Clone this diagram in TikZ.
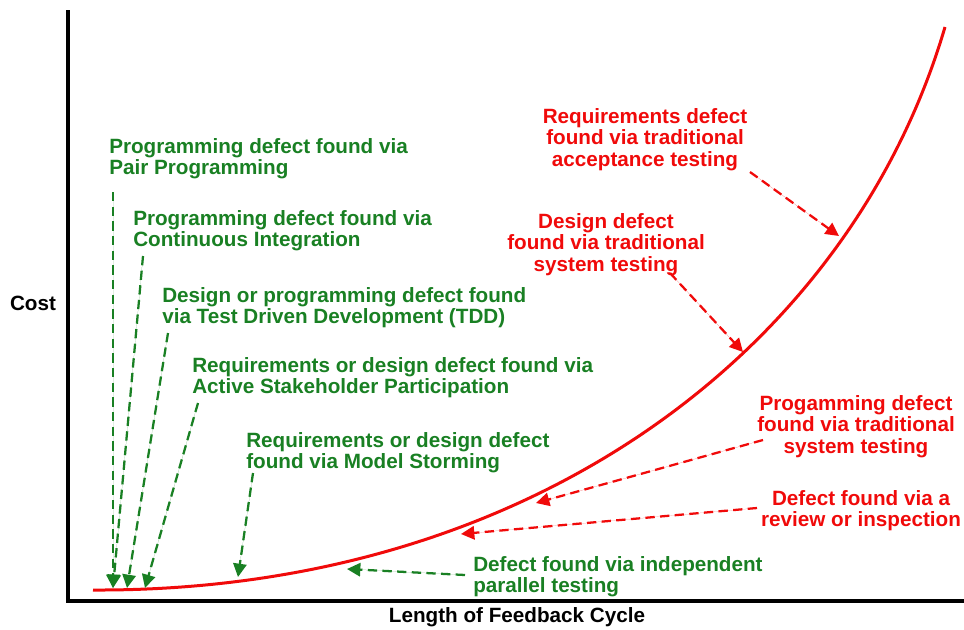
\documentclass[tikz,border=0pt]{standalone}
\usepackage{fontspec}
\setmainfont{Liberation Sans}
\usetikzlibrary{arrows.meta}
\definecolor{agilegreen}{RGB}{25,128,35}
\definecolor{tradred}{RGB}{240,10,10}
\def\largeur{964}
\def\hauteur{629}

\begin{document}
\begin{tikzpicture}[x=0.75pt, y=-0.75pt,
    every node/.style={font=\bfseries\fontsize{15.5}{16.3}\selectfont, inner sep=0pt},
    agiletext/.style={text=agilegreen, align=left, anchor=north west},
    tradtext/.style={text=tradred, align=center, anchor=north},
    agilearrow/.style={draw=agilegreen, fill=agilegreen, line width=1.7pt, dash pattern=on 7pt off 4pt, -{Triangle[length=10pt,width=10pt]}},
    tradarrow/.style={draw=tradred, fill=tradred, line width=1.7pt, dash pattern=on 7pt off 4pt, -{Triangle[length=10pt,width=10pt]}}]
    \useasboundingbox (0,0) rectangle (\largeur,\hauteur);
    % axes
    \coordinate (origin) at (68,601);
    \draw[line width=3pt] (68,10) -- (origin) -- (\largeur,601);
    \node (cost) at (33,303) {Cost};
    \node (cycle) at (517,617) {Length of Feedback Cycle};
    % cost curve
    \draw[tradred, line width=2.25pt] (93,590) .. controls (530,592) and (850,350) .. (945,27);
%\draw[step=50, black!20] (0,0) grid (\largeur,\hauteur);

    % agile techniques
    \node[agiletext] (pair) at (109,138) {Programming defect found via\\Pair Programming};
    \node[agiletext] (ci) at (133,210) {Programming defect found via\\Continuous Integration};
    \node[agiletext] (tdd) at (162,287) {Design or programming defect found\\via Test Driven Development (TDD)};
    \node[agiletext] (asp) at (192,357) {Requirements or design defect found via\\Active Stakeholder Participation};
    \node[agiletext] (storm) at (246,432) {Requirements or design defect\\found via Model Storming};
    \node[agiletext] (parallel) at (473,556) {Defect found via independent\\parallel testing};

    \coordinate (pair-s) at (113,192);  \coordinate (pair-e) at (113,588);
    \coordinate (ci-s) at (143,256);    \coordinate (ci-e) at (113,588);
    \coordinate (tdd-s) at (168,333);   \coordinate (tdd-e) at (127,588);
    \coordinate (asp-s) at (198,403);   \coordinate (asp-e) at (145,588);
    \coordinate (storm-s) at (253,473); \coordinate (storm-e) at (238,577);
    \coordinate (parallel-s) at (465,575); \coordinate (parallel-e) at (347,569);
    \draw[agilearrow] (pair-s) -- (pair-e);
    \draw[agilearrow] (ci-s) -- (ci-e);
    \draw[agilearrow] (tdd-s) -- (tdd-e);
    \draw[agilearrow] (asp-s) -- (asp-e);
    \draw[agilearrow] (storm-s) -- (storm-e);
    \draw[agilearrow] (parallel-s) -- (parallel-e);

    % traditional techniques
    \node[tradtext] (accept) at (645,108) {Requirements defect\\found via traditional\\acceptance testing};
    \node[tradtext] (system) at (606,213) {Design defect\\found via traditional\\system testing};
    \node[tradtext] (progsys) at (856,395) {Progamming defect\\found via traditional\\system testing};
    \node[tradtext] (review) at (861,490) {Defect found via a\\review or inspection};

    \coordinate (accept-s) at (750,172);  \coordinate (accept-e) at (839,236);
    \coordinate (system-s) at (670,273);  \coordinate (system-e) at (743,352);
    \coordinate (progsys-s) at (763,440); \coordinate (progsys-e) at (536,503);
    \coordinate (review-s) at (757,508);  \coordinate (review-e) at (461,534);
    \draw[tradarrow] (accept-s) -- (accept-e);
    \draw[tradarrow] (system-s) -- (system-e);
    \draw[tradarrow] (progsys-s) -- (progsys-e);
    \draw[tradarrow] (review-s) -- (review-e);
\end{tikzpicture}
\end{document}
